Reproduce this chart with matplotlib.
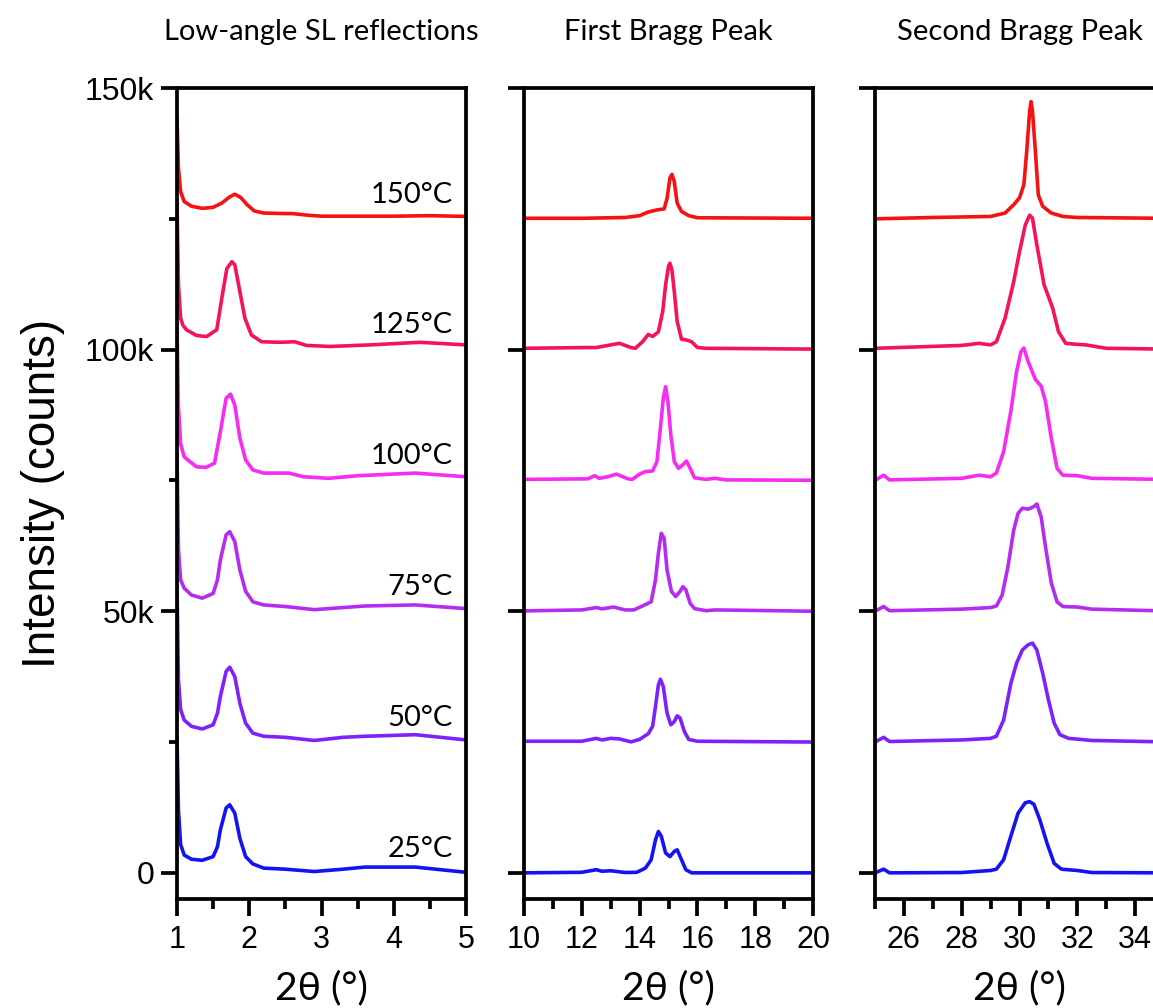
import matplotlib
matplotlib.use("Agg")
import matplotlib.pyplot as plt
from matplotlib.ticker import MultipleLocator, FixedLocator

# temperatures, vertical offsets (counts) and colours, bottom to top
temps = ["25°C", "50°C", "75°C", "100°C", "125°C", "150°C"]
offsets = [0, 25000, 50000, 75000, 100000, 125000]
colors = ["#1414f2", "#7d22f8", "#b42cf0", "#f52cf2", "#f5135f", "#f51212"]

titles = ["Low-angle SL reflections", "First Bragg Peak", "Second Bragg Peak"]

# --- low-angle panel (2theta, intensity above offset in k counts) ---
low_x = [
    [1.00, 1.02, 1.05, 1.10, 1.20, 1.35, 1.50, 1.56, 1.60, 1.68, 1.73, 1.80, 1.87, 1.95, 2.05, 2.20, 2.50, 2.90, 3.30, 3.60, 4.30, 5.00],
    [1.00, 1.02, 1.05, 1.10, 1.20, 1.35, 1.50, 1.56, 1.60, 1.68, 1.73, 1.80, 1.87, 1.95, 2.05, 2.20, 2.50, 2.90, 3.30, 3.60, 4.30, 5.00],
    [1.00, 1.02, 1.05, 1.10, 1.20, 1.35, 1.50, 1.56, 1.60, 1.68, 1.73, 1.80, 1.87, 1.95, 2.05, 2.20, 2.50, 2.90, 3.30, 3.60, 4.30, 5.00],
    [1.00, 1.02, 1.05, 1.10, 1.15, 1.27, 1.40, 1.52, 1.60, 1.68, 1.74, 1.80, 1.87, 1.95, 2.05, 2.20, 2.55, 2.75, 3.10, 3.50, 4.30, 5.00],
    [1.00, 1.02, 1.05, 1.08, 1.13, 1.27, 1.41, 1.55, 1.62, 1.69, 1.76, 1.80, 1.87, 1.94, 2.03, 2.17, 2.43, 2.63, 2.79, 3.12, 3.67, 4.36, 5.00],
    [1.00, 1.02, 1.05, 1.10, 1.20, 1.35, 1.50, 1.62, 1.72, 1.80, 1.88, 1.97, 2.07, 2.20, 2.50, 2.60, 2.80, 3.00, 3.50, 4.00, 4.50, 5.00],
]
low_y = [
    [26, 12.0, 5.4, 3.4, 2.6, 2.4, 3.1, 5.0, 8.2, 12.4, 13.0, 11.4, 6.6, 3.1, 1.7, 0.9, 0.7, 0.25, 0.7, 1.1, 1.1, 0.1],
    [30, 11.9, 6.2, 4.2, 3.0, 2.5, 3.3, 5.5, 8.7, 13.5, 14.3, 12.5, 7.4, 3.6, 1.7, 1.1, 0.9, 0.3, 0.9, 1.1, 1.4, 0.4],
    [30, 11.7, 6.0, 4.4, 3.1, 2.5, 3.4, 6.0, 9.8, 14.6, 15.2, 13.3, 7.9, 3.8, 1.8, 1.2, 0.9, 0.3, 0.7, 1.0, 1.2, 0.5],
    [30, 14.0, 7.0, 4.5, 3.9, 2.6, 2.5, 3.3, 9.3, 15.7, 16.5, 14.4, 8.1, 3.9, 2.0, 1.4, 1.4, 0.7, 0.4, 0.9, 1.4, 0.7],
    [28, 12.4, 6.0, 4.7, 3.8, 2.7, 2.5, 3.8, 9.8, 15.5, 16.8, 16.2, 11.1, 6.0, 2.8, 1.5, 1.4, 1.5, 0.8, 0.6, 0.9, 1.4, 0.9],
    [19.2, 9.7, 5.2, 3.3, 2.4, 2.0, 2.2, 3.0, 4.1, 4.7, 4.1, 2.7, 1.5, 1.1, 1.0, 1.0, 0.7, 0.5, 0.5, 0.5, 0.6, 0.45],
]

# --- first Bragg peak panel ---
first_x = [
    [10, 12.0, 12.5, 12.7, 13.0, 13.5, 13.9, 14.2, 14.4, 14.55, 14.65, 14.75, 14.9, 15.05, 15.2, 15.3, 15.45, 15.6, 15.8, 20],
    [10, 12.0, 12.5, 12.7, 13.0, 13.3, 13.7, 14.0, 14.3, 14.45, 14.55, 14.65, 14.72, 14.82, 14.95, 15.08, 15.2, 15.3, 15.4, 15.55, 15.7, 16.0, 20],
    [10, 12.0, 12.5, 12.7, 13.1, 13.5, 13.8, 14.1, 14.4, 14.55, 14.65, 14.75, 14.85, 14.95, 15.1, 15.25, 15.4, 15.5, 15.6, 15.75, 15.9, 16.3, 16.6, 20],
    [10, 12.2, 12.45, 12.6, 12.9, 13.2, 13.6, 13.75, 14.0, 14.2, 14.45, 14.6, 14.72, 14.82, 14.9, 14.98, 15.08, 15.2, 15.35, 15.5, 15.62, 15.75, 15.9, 16.3, 16.6, 17.0, 20],
    [10, 12.2, 12.5, 12.9, 13.3, 13.7, 13.85, 14.1, 14.3, 14.45, 14.65, 14.8, 14.9, 15.0, 15.05, 15.12, 15.2, 15.3, 15.45, 15.65, 15.8, 16.0, 16.3, 20],
    [10, 12.0, 13.5, 14.0, 14.3, 14.6, 14.85, 14.95, 15.05, 15.12, 15.2, 15.3, 15.45, 15.7, 16.0, 20],
]
first_y = [
    [0, 0.1, 0.6, 0.3, 0.4, 0.06, 0.1, 0.9, 2.5, 6.3, 7.9, 7.0, 3.8, 3.1, 4.1, 4.4, 2.5, 0.6, 0, 0],
    [0.15, 0.15, 0.7, 0.4, 0.7, 0.6, 0.03, 0.5, 1.6, 3.0, 6.8, 10.9, 12.0, 10.6, 5.5, 3.3, 3.9, 5.0, 4.6, 2.0, 0.5, 0.15, 0],
    [0.06, 0.25, 0.7, 0.45, 0.8, 0.25, 0.25, 1.0, 1.8, 6.0, 11.1, 14.9, 13.9, 7.9, 3.8, 2.8, 3.8, 4.7, 4.1, 1.5, 0.5, 0.1, 0.25, 0],
    [0.2, 0.3, 0.9, 0.4, 0.7, 1.2, 0.3, 0.2, 1.2, 1.7, 1.8, 3.6, 10.0, 15.7, 17.9, 15.1, 8.7, 3.6, 2.3, 3.0, 3.7, 2.3, 0.5, 0.2, 0.4, 0.1, 0.03],
    [0.25, 0.4, 0.4, 0.8, 1.2, 0.4, 0.25, 1.5, 2.9, 2.5, 3.4, 7.3, 12.4, 15.9, 16.5, 15.2, 11.1, 5.4, 2.0, 1.8, 1.5, 0.4, 0.25, 0.1],
    [0.1, 0.1, 0.25, 0.6, 1.3, 1.7, 1.9, 3.9, 7.8, 8.5, 7.1, 3.0, 1.4, 0.6, 0.2, 0.1],
]

# --- second Bragg peak panel ---
second_x = [
    [25.0, 25.3, 25.5, 28.0, 29.0, 29.2, 29.45, 29.7, 29.95, 30.2, 30.35, 30.5, 30.7, 30.95, 31.2, 31.45, 32.0, 32.5, 35.0],
    [25.0, 25.3, 25.5, 28.0, 29.0, 29.2, 29.45, 29.7, 29.9, 30.1, 30.3, 30.45, 30.6, 30.8, 31.0, 31.2, 31.4, 31.7, 32.5, 35.0],
    [25.0, 25.3, 25.5, 28.0, 29.0, 29.2, 29.4, 29.6, 29.8, 29.95, 30.1, 30.3, 30.5, 30.6, 30.75, 30.9, 31.1, 31.3, 31.5, 32.0, 32.5, 35.0],
    [25.0, 25.3, 25.5, 28.0, 28.6, 29.0, 29.2, 29.45, 29.7, 29.9, 30.05, 30.15, 30.3, 30.55, 30.75, 30.9, 31.1, 31.3, 31.5, 32.0, 32.5, 35.0],
    [25.0, 28.0, 28.6, 29.0, 29.2, 29.5, 29.8, 30.0, 30.2, 30.35, 30.45, 30.6, 30.85, 31.15, 31.35, 31.6, 32.0, 32.3, 33.0, 35.0],
    [25.0, 27.0, 29.0, 29.5, 29.8, 30.0, 30.15, 30.25, 30.35, 30.4, 30.45, 30.55, 30.65, 30.8, 31.1, 31.5, 32.0, 35.0],
]
second_y = [
    [0, 0.7, 0, 0.06, 0.45, 0.7, 2.5, 7.0, 11.4, 13.4, 13.6, 13.1, 10.2, 5.7, 1.8, 0.7, 0.45, 0.06, 0],
    [0, 0.9, 0.1, 0.4, 0.7, 1.1, 4.2, 11.2, 15.1, 17.6, 18.6, 18.9, 17.6, 13.2, 8.1, 3.6, 1.4, 0.7, 0.3, 0.03],
    [0, 0.9, 0.1, 0.4, 0.7, 1.0, 3.1, 8.5, 15.5, 18.7, 19.7, 19.5, 20.0, 20.5, 18.0, 12.3, 5.4, 1.8, 0.9, 0.8, 0.4, 0.06],
    [0, 1.0, 0.1, 0.4, 1.0, 0.7, 1.4, 5.5, 13.2, 20.8, 24.6, 25.3, 22.7, 19.3, 18.0, 15.1, 8.1, 2.3, 1.0, 0.9, 0.4, 0.2],
    [0.25, 0.8, 1.2, 0.9, 1.5, 6.0, 13.0, 18.7, 23.8, 25.7, 25.1, 20.0, 12.4, 7.9, 3.4, 1.2, 1.0, 0.9, 0.25, 0.1],
    [0, 0.25, 0.45, 1.1, 2.7, 4.0, 6.5, 12.9, 20.5, 22.4, 20.5, 12.9, 4.6, 2.4, 1.1, 0.45, 0.25, 0.1],
]

panels = [
    (low_x, low_y, (1, 5), 1, 0.5),
    (first_x, first_y, (10, 20), 2, 1),
    (second_x, second_y, (25, 35), 2, 1),
]

tick_font = "Liberation Sans"
text_font = ["Lato", "DejaVu Sans"]

W, H = 1153, 1008
fig = plt.figure(figsize=(W / 100, H / 100), dpi=100)

ax_left_px = [177, 524, 875]
ax_w_px = 289
ax_bottom_px, ax_top_px = 899, 88
lw = 2.7

for i, (xs, ys, xlim, major, minor) in enumerate(panels):
    ax = fig.add_axes([ax_left_px[i] / W, 1 - ax_bottom_px / H,
                       ax_w_px / W, (ax_bottom_px - ax_top_px) / H])
    for x, y, off, c in zip(xs, ys, offsets, colors):
        ax.plot(x, [off + v * 1000 for v in y], color=c, lw=2.6,
                solid_joinstyle="round", solid_capstyle="round")

    ax.set_xlim(*xlim)
    ax.set_ylim(-5000, 150000)
    ax.xaxis.set_major_locator(MultipleLocator(major))
    ax.xaxis.set_minor_locator(MultipleLocator(minor))
    ax.yaxis.set_major_locator(FixedLocator([0, 50000, 100000, 150000]))

    for s in ax.spines.values():
        s.set_linewidth(lw)
    ax.tick_params(axis="both", which="major", direction="out", length=11.5,
                   width=lw, color="black")
    ax.tick_params(axis="x", which="minor", direction="out", length=7,
                   width=lw)
    ax.tick_params(axis="x", which="major", length=12.5, pad=6)
    for lab in ax.get_xticklabels():
        lab.set_fontfamily(tick_font)
        lab.set_fontsize(22)

    if i == 0:
        ax.yaxis.set_minor_locator(FixedLocator([25000, 75000, 125000]))
        ax.tick_params(axis="y", which="minor", direction="out", length=6,
                       width=lw)
        ax.set_yticklabels(["0", "50k", "100k", "150k"],
                           fontfamily=tick_font, fontsize=23)
        ax.tick_params(axis="y", which="major", pad=5)
        ax.set_ylabel("Intensity (counts)", fontfamily=tick_font,
                      fontsize=33, labelpad=14)
        for t, off in zip(temps, offsets):
            ax.text(0.955, off + 3100, t, transform=ax.get_yaxis_transform(),
                    ha="right", va="baseline", fontsize=21, family=text_font)
    else:
        ax.set_yticklabels([])

    ax.text(0.5, 1 + 48 / (ax_bottom_px - ax_top_px), titles[i],
            transform=ax.transAxes, ha="center", va="baseline",
            fontsize=21, family=text_font)
    ax.text(0.5, -100 / (ax_bottom_px - ax_top_px), "2θ (°)",
            transform=ax.transAxes, ha="center", va="baseline",
            fontsize=28, family=text_font)

fig.savefig("out.png", dpi=100, facecolor="white")
